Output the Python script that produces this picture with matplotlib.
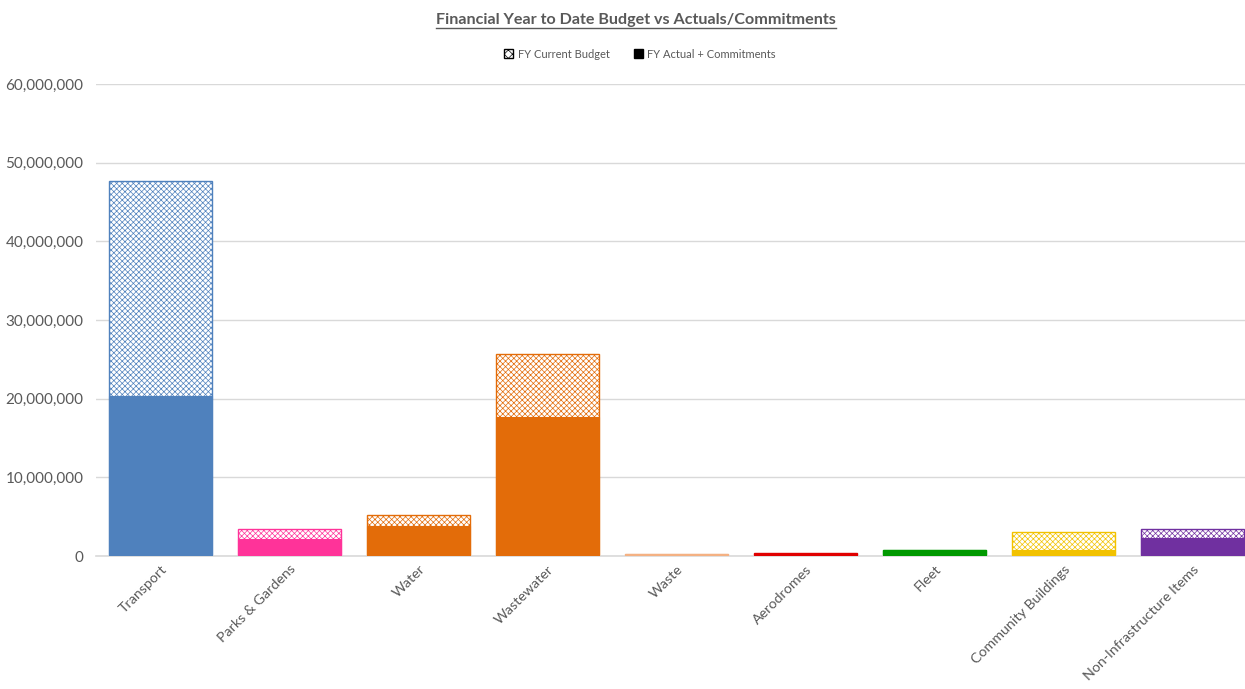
import matplotlib.pyplot as plt
import matplotlib.ticker as mticker
from matplotlib.patches import Patch
from matplotlib.lines import Line2D

categories = ['Transport', 'Parks & Gardens', 'Water', 'Wastewater', 'Waste',
              'Aerodromes', 'Fleet', 'Community Buildings', 'Non-Infrastructure Items']
budget = [47.7e6, 3.43e6, 5.17e6, 25.7e6, 0.25e6, 0.32e6, 0.80e6, 3.0e6, 3.4e6]
actual = [20.35e6, 2.16e6, 3.81e6, 17.7e6, 0.20e6, 0.28e6, 0.78e6, 0.76e6, 2.33e6]
colors = ['#4F81BD', '#FF3399', '#E36C09', '#E36C09', '#F4B183',
          '#E00000', '#009900', '#F2C200', '#7030A0']

plt.rcParams['font.family'] = ['Lato', 'DejaVu Sans']
plt.rcParams['hatch.linewidth'] = 0.5

fig = plt.figure(figsize=(12.45, 6.89), dpi=100)
ax = fig.add_axes([96 / 1245, 1 - 556 / 689, 1161 / 1245, (556 - 84) / 689])

x = list(range(len(categories)))
for i in x:
    # budget behind (hatched), actual + commitments in front (solid)
    ax.bar(i, budget[i], width=0.8, facecolor='white', edgecolor=colors[i],
           hatch='xxxxxx', linewidth=1, zorder=2)
    ax.bar(i, actual[i], width=0.8, color=colors[i], edgecolor=colors[i],
           linewidth=0.8, zorder=3)

ax.set_xlim(-0.5, len(categories) - 0.5)
ax.set_ylim(0, 60e6)
ax.yaxis.set_major_locator(mticker.MultipleLocator(10e6))
ax.yaxis.set_major_formatter(mticker.FuncFormatter(lambda v, p: f'{int(v):,}'))
ax.grid(axis='y', color='#D9D9D9', linewidth=1, zorder=0)
ax.set_axisbelow(True)
for s in ['top', 'right', 'left']:
    ax.spines[s].set_visible(False)
ax.spines['bottom'].set_color('#D9D9D9')
ax.spines['bottom'].set_linewidth(1.2)
ax.tick_params(axis='y', length=0, colors='#595959', labelsize=11, pad=9)
ax.tick_params(axis='x', length=0, colors='#595959', labelsize=10.3, pad=5)
ax.set_xticks(x)
ax.set_xticklabels(categories, rotation=45, ha='right', rotation_mode='anchor')

title = fig.text(636 / 1245, 1 - 20 / 689, 'Financial Year to Date Budget vs Actuals/Commitments',
                 ha='center', va='center', fontsize=11.6, fontweight='bold', color='#595959')
fig.canvas.draw()
bb = title.get_window_extent().transformed(fig.transFigure.inverted())
fig.add_artist(Line2D([bb.x0, bb.x1], [bb.y0 - 0.002, bb.y0 - 0.002],
                      color='#595959', linewidth=1, transform=fig.transFigure))

handles = [Patch(facecolor='white', edgecolor='black', hatch='xxxx', label='FY Current Budget'),
           Patch(facecolor='black', edgecolor='black', label='FY Actual + Commitments')]
fig.legend(handles=handles, loc='center', bbox_to_anchor=(640 / 1245, 1 - 54 / 689), ncol=2,
           frameon=False, fontsize=8, labelcolor='#595959', handlelength=0.8,
           handleheight=0.8, columnspacing=2.2, handletextpad=0.4)

fig.savefig('out.png', dpi=100)
